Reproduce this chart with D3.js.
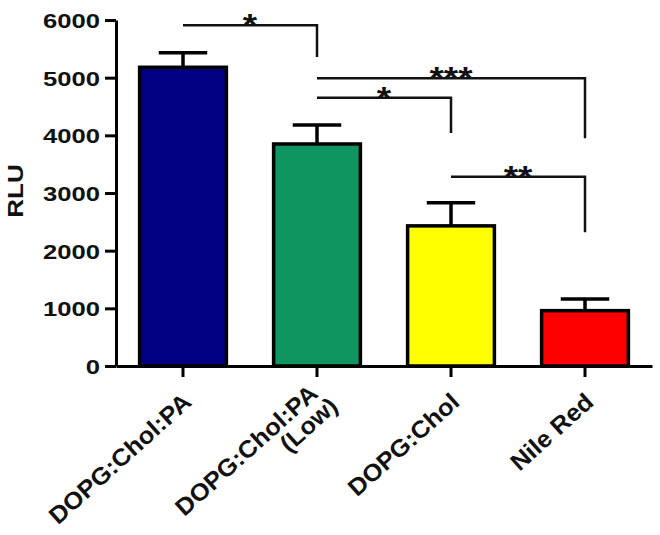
<!DOCTYPE html>
<html>
<head>
<meta charset="utf-8">
<script src="https://cdn.jsdelivr.net/npm/d3@7"></script>
<style>
  body { margin: 0; background: #fff; }
  svg { display: block; font-family: "Liberation Sans", Arial, sans-serif; font-weight: bold; }
</style>
</head>
<body>
<div id="chart"></div>
<script>
// groups and their mean / SEM
const categories = ["DOPG:Chol:PA", "DOPG:Chol:PA\n(Low)", "DOPG:Chol", "Nile Red"];
const means = [5180, 3850, 2430, 960];
const sems = [250, 330, 400, 200];
const barColors = ["#000080", "#0f9660", "#ffff00", "#ff0000"];
const yTicks = [0, 1000, 2000, 3000, 4000, 5000, 6000];

// significance brackets (index from -> index to, bracket level, drop end, stars)
const sigFrom = [0, 1, 1, 2];
const sigTo = [1, 3, 2, 3];
const sigTop = [5910, 4990, 4650, 3280];
const sigDrop = [5360, 3950, 4040, 2320];
const sigStars = ["*", "***", "*", "**"];

const width = 660, height = 535;

const svg = d3.select("#chart").append("svg")
    .attr("width", width)
    .attr("height", height);

const x = d3.scaleBand()
    .domain(categories)
    .range([116, 652])
    .paddingInner(0.33)
    .paddingOuter(0.165);

const y = d3.scaleLinear()
    .domain([0, 6000])
    .range([366, 20]);

const cx = i => x(categories[i]) + x.bandwidth() / 2;

// error bars (only the upper half shows)
const capW = x.bandwidth() * 0.54;
const err = svg.append("g")
    .attr("stroke", "#000")
    .attr("stroke-width", 3.5);
err.selectAll("line.v")
    .data(categories)
    .join("line")
    .attr("class", "v")
    .attr("x1", (d, i) => cx(i))
    .attr("x2", (d, i) => cx(i))
    .attr("y1", (d, i) => y(means[i]))
    .attr("y2", (d, i) => y(means[i] + sems[i]));
err.selectAll("line.c")
    .data(categories)
    .join("line")
    .attr("class", "c")
    .attr("x1", (d, i) => cx(i) - capW / 2)
    .attr("x2", (d, i) => cx(i) + capW / 2)
    .attr("y1", (d, i) => y(means[i] + sems[i]))
    .attr("y2", (d, i) => y(means[i] + sems[i]));

// bars
svg.append("g")
    .selectAll("rect")
    .data(categories)
    .join("rect")
    .attr("x", d => x(d) + 1.5)
    .attr("width", x.bandwidth() - 3)
    .attr("y", (d, i) => y(means[i]))
    .attr("height", (d, i) => y(0) - y(means[i]))
    .attr("fill", (d, i) => barColors[i])
    .attr("stroke", "#000")
    .attr("stroke-width", 3.5);

// y axis
const yAxis = svg.append("g")
    .attr("transform", "translate(116,0)")
    .call(d3.axisLeft(y).tickValues(yTicks).tickFormat(d3.format("d")).tickSize(11).tickSizeOuter(0));
yAxis.select(".domain").attr("stroke-width", 3);
yAxis.selectAll(".tick line").attr("stroke-width", 3);
const sx = 1.22;
yAxis.selectAll(".tick text")
    .attr("font-size", 21)
    .attr("font-weight", "bold")
    .attr("font-family", "Liberation Sans, Arial, sans-serif")
    .attr("fill", "#111")
    .attr("x", -16 / sx)
    .attr("dy", "0.36em")
    .attr("transform", `scale(${sx},1)`);

// x axis
const xAxis = svg.append("g")
    .attr("transform", "translate(0,366)")
    .call(d3.axisBottom(x).tickSize(11).tickSizeOuter(0).tickFormat(""));
xAxis.select(".domain").attr("stroke-width", 3);
xAxis.selectAll(".tick line").attr("stroke-width", 3);

// category labels, rotated
const labFs = 24, labAngle = -42, labStretch = 1.06;
categories.forEach((c, i) => {
  const lines = c.split("\n");
  const g = svg.append("g")
      .attr("transform", `translate(${cx(i) + 10},404) rotate(${labAngle}) scale(${labStretch},1)`);
  lines.forEach((t, k) => {
    g.append("text")
        .attr("text-anchor", "end")
        .attr("font-size", labFs)
        .attr("fill", "#111")
        .attr("x", k * 6)
        .attr("y", (k - (lines.length - 1) / 2) * labFs * 0.95)
        .text(t);
  });
});

// y axis title
svg.append("text")
    .attr("transform", "translate(23,191) rotate(-90) scale(1.18,1)")
    .attr("text-anchor", "middle")
    .attr("font-size", 22)
    .attr("fill", "#111")
    .text("RLU");

// significance brackets
const sig = svg.append("g");
sigFrom.forEach((f, k) => {
  const x1 = cx(f), x2 = cx(sigTo[k]);
  const yt = y(sigTop[k]);
  sig.append("path")
      .attr("d", `M${x1},${yt}H${x2}V${y(sigDrop[k])}`)
      .attr("fill", "none")
      .attr("stroke", "#111")
      .attr("stroke-width", 2.5);
  sig.append("text")
      .attr("transform", `translate(${(x1 + x2) / 2},${yt + 11}) scale(1.15,1)`)
      .attr("text-anchor", "middle")
      .attr("font-size", 32)
      .attr("fill", "#111")
      .text(sigStars[k]);
});
</script>
</body>
</html>
